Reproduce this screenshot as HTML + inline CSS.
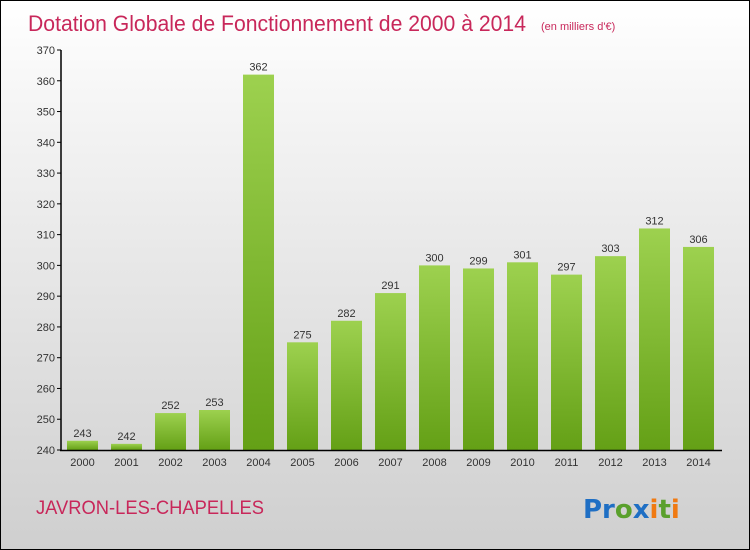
<!DOCTYPE html>
<html><head><meta charset="utf-8"><style>
body{margin:0}
#c{position:relative;width:748px;height:548px;border:1px solid #000;background:linear-gradient(#fff 0%,#f2f2f2 25%,#cfcfcf 100%);font-family:"Liberation Sans",sans-serif;overflow:hidden}
</style></head><body>
<div id="c">
<svg id="s" width="748" height="548" style="position:absolute;left:0;top:0">
<defs><linearGradient id="g" x1="0" y1="0" x2="0" y2="1"><stop offset="0" stop-color="#9dd14f"/><stop offset="1" stop-color="#64a016"/></linearGradient></defs>
<text x="27" y="30" font-size="22" fill="#c8275a" style="font-weight:300" textLength="498" lengthAdjust="spacingAndGlyphs">Dotation Globale de Fonctionnement de 2000 à 2014</text>
<text x="540" y="29" font-size="11" fill="#c8275a">(en milliers d'€)</text>
<text x="35" y="513" font-size="19" fill="#c8275a" textLength="228" lengthAdjust="spacingAndGlyphs">JAVRON-LES-CHAPELLES</text>
<text x="582" y="517" font-size="26" font-weight="bold" font-family="'DejaVu Sans',sans-serif"><tspan fill="#1f6fc4">Pr</tspan><tspan fill="#5aa02c">o</tspan><tspan fill="#1f6fc4">x</tspan><tspan fill="#f07a12">i</tspan><tspan fill="#5aa02c">t</tspan><tspan fill="#f07a12">i</tspan></text>
<g id="plot"></g>
</svg>
</div>
<script>
const years=["2000","2001","2002","2003","2004","2005","2006","2007","2008","2009","2010","2011","2012","2013","2014"];
const values=[243,242,252,253,362,275,282,291,300,299,301,297,303,312,306];
const yTicks=[240,250,260,270,280,290,300,310,320,330,340,350,360,370];
const ns="http://www.w3.org/2000/svg";
const g=document.getElementById('plot');
const y0=449,yMin=240,yMax=370,yTop=49;
const y=v=>y0-(v-yMin)/(yMax-yMin)*(y0-yTop);
const x=i=>81.5+i*44;
function mk(t,a){const e=document.createElementNS(ns,t);for(const k in a)e.setAttribute(k,a[k]);g.appendChild(e);return e;}
yTicks.forEach(v=>{
 const l=mk('line',{x1:56,x2:60,y1:y(v),y2:y(v),stroke:'#000'});
 
 
 const t=mk('text',{x:54,y:y(v)+4,'font-size':11,fill:'#333','text-anchor':'end'});
 t.textContent=v;
 
 
});
values.forEach((v,i)=>{
 const r=mk('rect',{x:x(i)-15.5,y:y(v),width:31,height:y0-y(v),fill:'url(#g)'});
 
 
 const t=mk('text',{x:x(i),y:y(v)-4,'font-size':11,fill:'#333','text-anchor':'middle'});
 t.textContent=v;
 
 
 const xl=mk('text',{x:x(i),y:465,'font-size':11,fill:'#333','text-anchor':'middle'});
 xl.textContent=years[i];
 
 
});
const ya=mk('line',{x1:60,x2:60,y1:yTop,y2:y0+1,stroke:'#000','stroke-width':1.5});


const xa=mk('line',{x1:59,x2:721,y1:y0+0.5,y2:y0+0.5,stroke:'#000','stroke-width':1.5});


</script>
</body></html>
